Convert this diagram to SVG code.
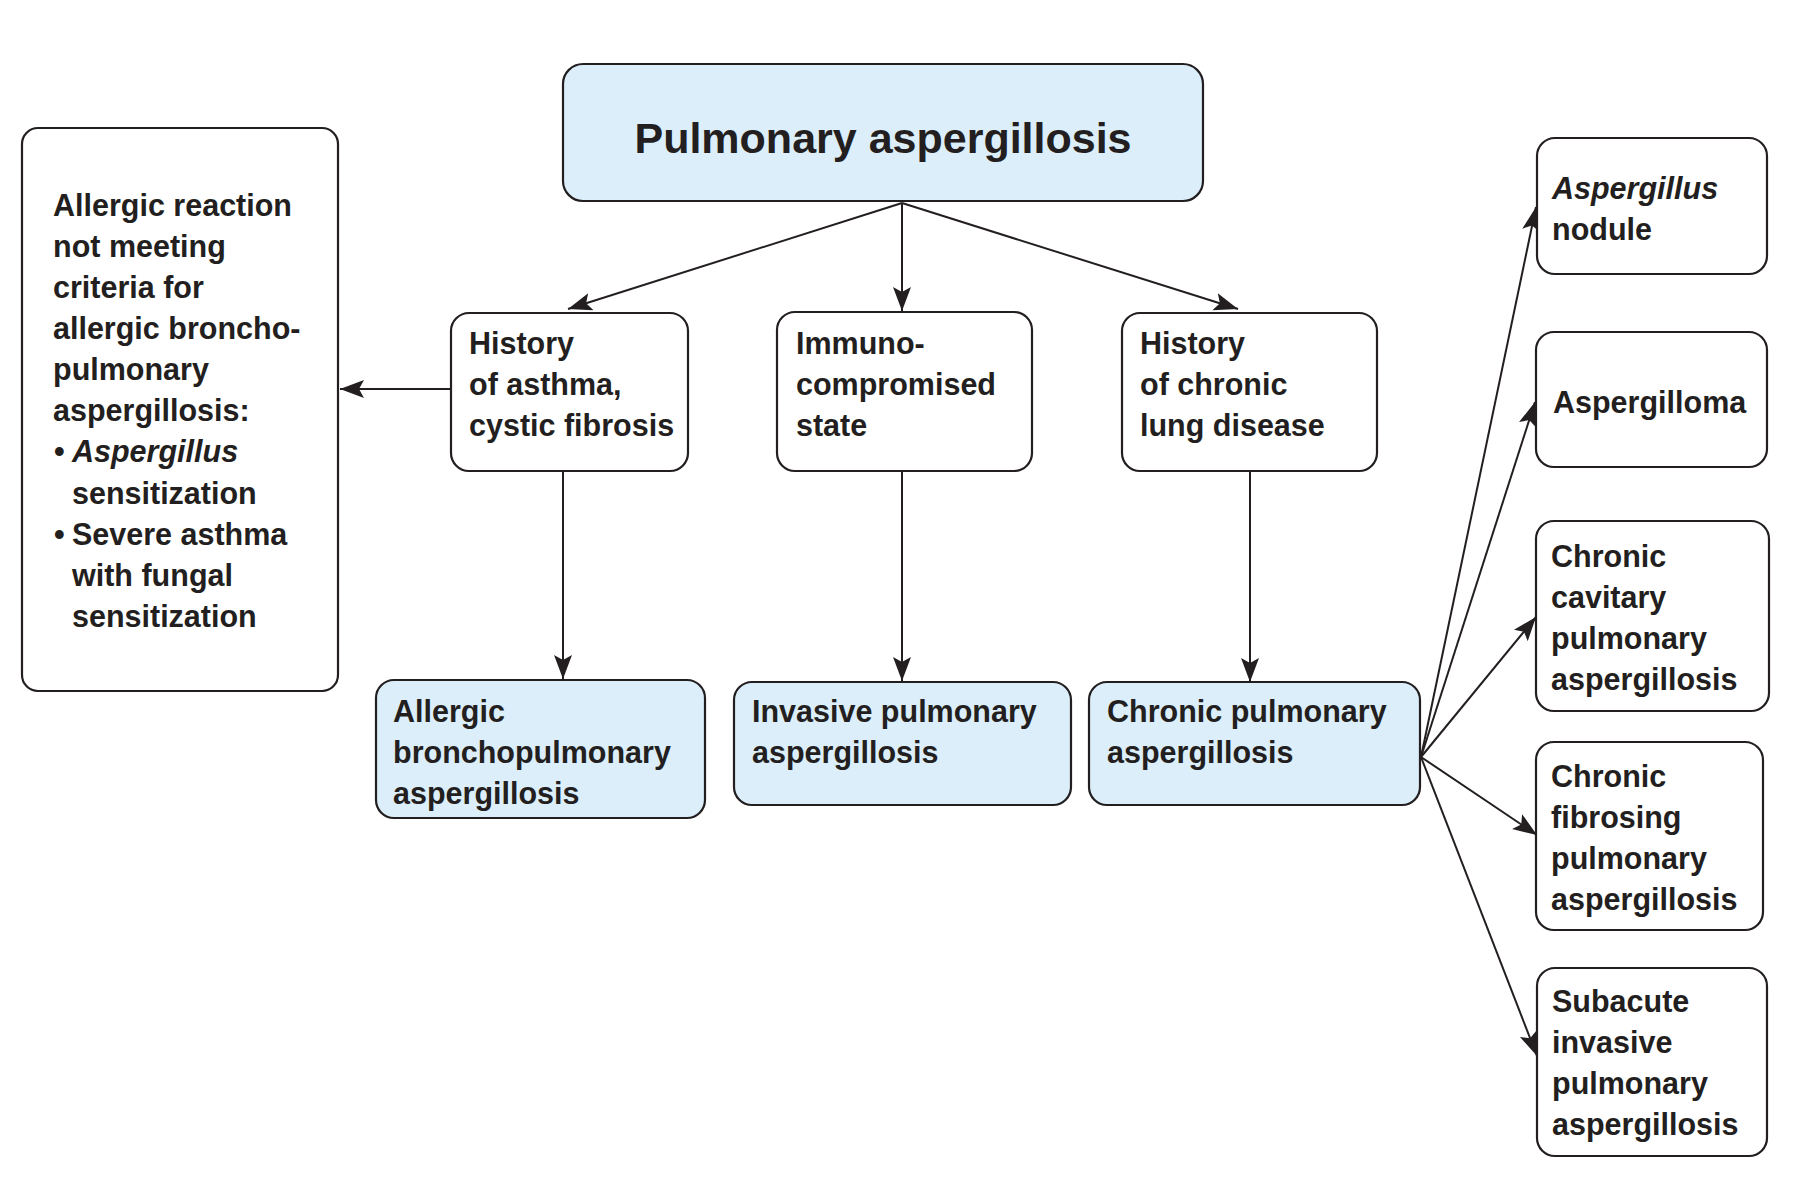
<svg xmlns="http://www.w3.org/2000/svg" width="1800" height="1198" viewBox="0 0 1800 1198">
<defs>
<style>
.box{fill:#ffffff;stroke:#231f20;stroke-width:2.2}
.blue{fill:#dbeefa;stroke:#231f20;stroke-width:2.2}
.t{font-family:"Liberation Sans",Arial,sans-serif;font-weight:bold;font-size:30.5px;fill:#231f20}
.title{font-family:"Liberation Sans",Arial,sans-serif;font-weight:bold;font-size:43px;fill:#231f20}
.i{font-style:italic}
.c{stroke:#231f20;stroke-width:2;fill:none;marker-end:url(#ah)}
</style>
<marker id="ah" markerUnits="userSpaceOnUse" markerWidth="26" markerHeight="20" refX="24" refY="9" orient="auto">
<path d="M0,0 L24,9 L0,18 L5,9 z" fill="#231f20"/>
</marker>
</defs>
<rect width="1800" height="1198" fill="#ffffff"/>

<g id="connectors">
<line class="c" x1="902" y1="203" x2="568" y2="309"/>
<line class="c" x1="902" y1="203" x2="902" y2="311"/>
<line class="c" x1="902" y1="203" x2="1238" y2="309"/>
<line class="c" x1="451" y1="389" x2="340" y2="389"/>
<line class="c" x1="563" y1="471" x2="563" y2="679"/>
<line class="c" x1="902" y1="471" x2="902" y2="681"/>
<line class="c" x1="1250" y1="471" x2="1250" y2="682"/>
<line class="c" x1="1421" y1="757" x2="1536" y2="207"/>
<line class="c" x1="1421" y1="757" x2="1535" y2="402"/>
<line class="c" x1="1421" y1="757" x2="1536" y2="617"/>
<line class="c" x1="1421" y1="757" x2="1537" y2="835"/>
<line class="c" x1="1421" y1="757" x2="1537" y2="1056"/>
</g>

<g id="n-title">
<rect class="blue" x="563" y="64" width="640" height="137" rx="20"/>
<text class="title" x="883" y="153" text-anchor="middle">Pulmonary aspergillosis</text>
</g>

<g id="n-allergic-reaction">
<rect class="box" x="22" y="128" width="316" height="563" rx="16"/>
<text class="t" x="53" y="216">Allergic reaction</text>
<text class="t" x="53" y="257">not meeting</text>
<text class="t" x="53" y="298">criteria for</text>
<text class="t" x="53" y="339">allergic broncho-</text>
<text class="t" x="53" y="380">pulmonary</text>
<text class="t" x="53" y="421">aspergillosis:</text>
<text class="t" x="54" y="462">•</text>
<text class="t i" x="72" y="462">Aspergillus</text>
<text class="t" x="72" y="504">sensitization</text>
<text class="t" x="54" y="545">•</text>
<text class="t" x="72" y="545">Severe asthma</text>
<text class="t" x="72" y="586">with fungal</text>
<text class="t" x="72" y="627">sensitization</text>
</g>

<g id="n-history-asthma">
<rect class="box" x="451" y="313" width="237" height="158" rx="18"/>
<text class="t" x="469" y="354">History</text>
<text class="t" x="469" y="395">of asthma,</text>
<text class="t" x="469" y="436">cystic fibrosis</text>
</g>

<g id="n-immuno">
<rect class="box" x="777" y="312" width="255" height="159" rx="18"/>
<text class="t" x="796" y="354">Immuno-</text>
<text class="t" x="796" y="395">compromised</text>
<text class="t" x="796" y="436">state</text>
</g>

<g id="n-history-chronic">
<rect class="box" x="1122" y="313" width="255" height="158" rx="18"/>
<text class="t" x="1140" y="354">History</text>
<text class="t" x="1140" y="395">of chronic</text>
<text class="t" x="1140" y="436">lung disease</text>
</g>

<g id="n-abpa">
<rect class="blue" x="376" y="680" width="329" height="138" rx="18"/>
<text class="t" x="393" y="722">Allergic</text>
<text class="t" x="393" y="763">bronchopulmonary</text>
<text class="t" x="393" y="804">aspergillosis</text>
</g>

<g id="n-ipa">
<rect class="blue" x="734" y="682" width="337" height="123" rx="18"/>
<text class="t" x="752" y="722">Invasive pulmonary</text>
<text class="t" x="752" y="763">aspergillosis</text>
</g>

<g id="n-cpa">
<rect class="blue" x="1089" y="682" width="331" height="123" rx="18"/>
<text class="t" x="1107" y="722">Chronic pulmonary</text>
<text class="t" x="1107" y="763">aspergillosis</text>
</g>

<g id="n-nodule">
<rect class="box" x="1537" y="138" width="230" height="136" rx="18"/>
<text class="t i" x="1552" y="199">Aspergillus</text>
<text class="t" x="1552" y="240">nodule</text>
</g>

<g id="n-aspergilloma">
<rect class="box" x="1536" y="332" width="231" height="135" rx="18"/>
<text class="t" x="1553" y="413">Aspergilloma</text>
</g>

<g id="n-ccpa">
<rect class="box" x="1536" y="521" width="233" height="190" rx="18"/>
<text class="t" x="1551" y="567">Chronic</text>
<text class="t" x="1551" y="608">cavitary</text>
<text class="t" x="1551" y="649">pulmonary</text>
<text class="t" x="1551" y="690">aspergillosis</text>
</g>

<g id="n-cfpa">
<rect class="box" x="1536" y="742" width="227" height="188" rx="18"/>
<text class="t" x="1551" y="787">Chronic</text>
<text class="t" x="1551" y="828">fibrosing</text>
<text class="t" x="1551" y="869">pulmonary</text>
<text class="t" x="1551" y="910">aspergillosis</text>
</g>

<g id="n-sipa">
<rect class="box" x="1537" y="968" width="230" height="188" rx="18"/>
<text class="t" x="1552" y="1012">Subacute</text>
<text class="t" x="1552" y="1053">invasive</text>
<text class="t" x="1552" y="1094">pulmonary</text>
<text class="t" x="1552" y="1135">aspergillosis</text>
</g>
</svg>
